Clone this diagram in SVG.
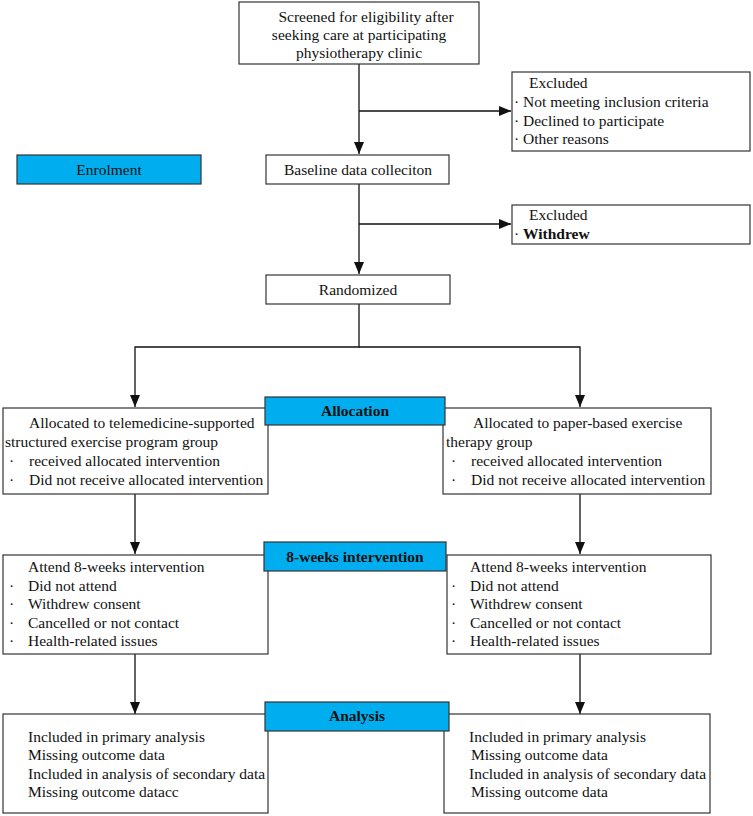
<svg xmlns="http://www.w3.org/2000/svg" width="753" height="816" viewBox="0 0 753 816">
<defs>
<marker id="arr" markerWidth="12" markerHeight="10" refX="12" refY="5" orient="auto" markerUnits="userSpaceOnUse">
<path d="M0,0 L12,5 L0,10 Z" fill="#111"/>
</marker>
<style>
.box{fill:#fff;stroke:#333;stroke-width:1.2}
.lab{fill:#00AEEF;stroke:#333;stroke-width:1.2}
.t{font-family:"Liberation Serif","Times New Roman",serif;font-size:15.5px;fill:#111}
.c{text-anchor:middle}
.b{font-weight:bold}
.ln{fill:none;stroke:#111;stroke-width:1.3}
</style>
</defs>
<rect width="753" height="816" fill="#fff"/>
<g id="connectors">
<path class="ln" d="M359,64 V154" marker-end="url(#arr)"/>
<path class="ln" d="M359,111 H511" marker-end="url(#arr)"/>
<path class="ln" d="M359,184 V274" marker-end="url(#arr)"/>
<path class="ln" d="M359,224 H511" marker-end="url(#arr)"/>
<path class="ln" d="M359,304 V347 H135 V407" marker-end="url(#arr)"/>
<path class="ln" d="M359,347 H580 V407" marker-end="url(#arr)"/>
<path class="ln" d="M135,494 V554" marker-end="url(#arr)"/>
<path class="ln" d="M580,494 V554" marker-end="url(#arr)"/>
<path class="ln" d="M135,654 V714" marker-end="url(#arr)"/>
<path class="ln" d="M580,654 V714" marker-end="url(#arr)"/>
</g>
<g id="screened">
<rect class="box" x="239" y="2" width="240" height="62"/>
<text class="t c" x="366" y="22">Screened for eligibility after</text>
<text class="t c" x="359" y="40">seeking care at participating</text>
<text class="t c" x="359" y="58">physiotherapy clinic</text>
</g>
<g id="excluded1">
<rect class="box" x="512" y="72" width="238" height="79"/>
<text class="t" x="529" y="88">Excluded</text>
<text class="t" x="514" y="107">· Not meeting inclusion criteria</text>
<text class="t" x="514" y="126">· Declined to participate</text>
<text class="t" x="514" y="144">· Other reasons</text>
</g>
<g id="enrolment">
<rect class="lab" x="17" y="155" width="184" height="29"/>
<text class="t c" x="109" y="175" fill="#1a2a44">Enrolment</text>
</g>
<g id="baseline">
<rect class="box" x="266" y="155" width="183" height="29"/>
<text class="t c" x="358" y="175">Baseline data colleciton</text>
</g>
<g id="excluded2">
<rect class="box" x="512" y="205" width="238" height="39"/>
<text class="t" x="529" y="220">Excluded</text>
<text class="t" x="514" y="239">· <tspan class="b">Withdrew</tspan></text>
</g>
<g id="randomized">
<rect class="box" x="266" y="275" width="184" height="29"/>
<text class="t c" x="358" y="295">Randomized</text>
</g>
<g id="alloc-left">
<rect class="box" x="3" y="408" width="265" height="86"/>
<text class="t" x="29" y="428">Allocated to telemedicine-supported</text>
<text class="t" x="5" y="447">structured exercise program group</text>
<text class="t" x="9" y="466">·</text>
<text class="t" x="29" y="466">received allocated intervention</text>
<text class="t" x="9" y="485">·</text>
<text class="t" x="29" y="485">Did not receive allocated intervention</text>
</g>
<g id="alloc-right">
<rect class="box" x="443" y="408" width="268" height="86"/>
<text class="t" x="473" y="428">Allocated to paper-based exercise</text>
<text class="t" x="446" y="447">therapy group</text>
<text class="t" x="451" y="466">·</text>
<text class="t" x="471" y="466">received allocated intervention</text>
<text class="t" x="451" y="485">·</text>
<text class="t" x="471" y="485">Did not receive allocated intervention</text>
</g>
<g id="allocation">
<rect class="lab" x="265" y="397" width="180" height="28"/>
<text class="t c b" x="355" y="416">Allocation</text>
</g>
<g id="int-left">
<rect class="box" x="3" y="555" width="265" height="99"/>
<text class="t" x="28" y="572">Attend 8-weeks intervention</text>
<text class="t" x="9" y="591">·</text>
<text class="t" x="28" y="591">Did not attend</text>
<text class="t" x="9" y="609">·</text>
<text class="t" x="28" y="609">Withdrew consent</text>
<text class="t" x="9" y="628">·</text>
<text class="t" x="28" y="628">Cancelled or not contact</text>
<text class="t" x="9" y="646">·</text>
<text class="t" x="28" y="646">Health-related issues</text>
</g>
<g id="int-right">
<rect class="box" x="447" y="555" width="264" height="99"/>
<text class="t" x="470" y="572">Attend 8-weeks intervention</text>
<text class="t" x="451" y="591">·</text>
<text class="t" x="470" y="591">Did not attend</text>
<text class="t" x="451" y="609">·</text>
<text class="t" x="470" y="609">Withdrew consent</text>
<text class="t" x="451" y="628">·</text>
<text class="t" x="470" y="628">Cancelled or not contact</text>
<text class="t" x="451" y="646">·</text>
<text class="t" x="470" y="646">Health-related issues</text>
</g>
<g id="intervention">
<rect class="lab" x="264" y="542" width="182" height="29"/>
<text class="t c b" x="355" y="562">8-weeks intervention</text>
</g>
<g id="analysis-left">
<rect class="box" x="3" y="714" width="265" height="99"/>
<text class="t" x="28" y="742">Included in primary analysis</text>
<text class="t" x="28" y="760">Missing outcome data</text>
<text class="t" x="28" y="779">Included in analysis of secondary data</text>
<text class="t" x="28" y="797">Missing outcome datacc</text>
</g>
<g id="analysis-right">
<rect class="box" x="444" y="714" width="266" height="99"/>
<text class="t" x="469" y="742">Included in primary analysis</text>
<text class="t" x="471" y="760">Missing outcome data</text>
<text class="t" x="469" y="779">Included in analysis of secondary data</text>
<text class="t" x="471" y="797">Missing outcome data</text>
</g>
<g id="analysis">
<rect class="lab" x="265" y="702" width="184" height="29"/>
<text class="t c b" x="357" y="721">Analysis</text>
</g>
</svg>
